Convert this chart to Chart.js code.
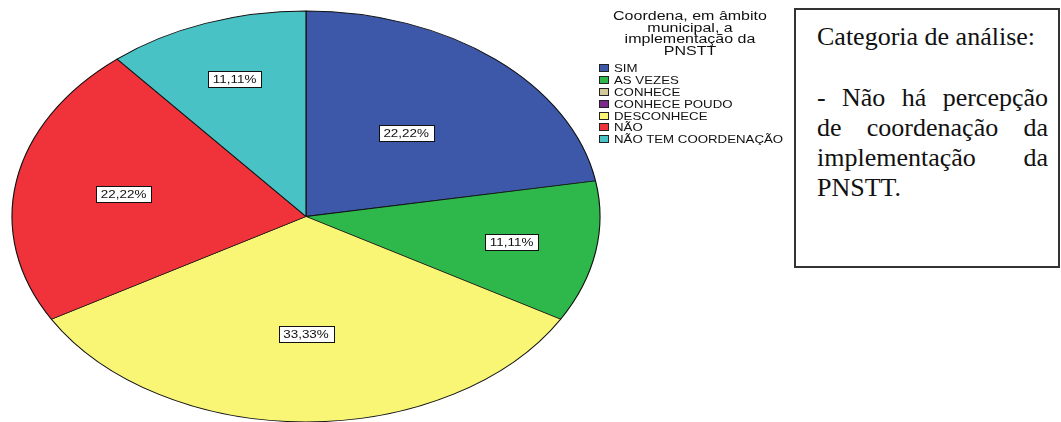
<!DOCTYPE html>
<html lang="pt">
<head>
<meta charset="utf-8">
<title>Coordena, em âmbito municipal, a implementação da PNSTT</title>
<script src="https://cdn.jsdelivr.net/npm/chart.js@4"></script>
<style>
  body { margin: 0; background: #fff; width: 1061px; height: 422px; overflow: hidden; position: relative; }
  #pie-wrap { position: absolute; left: 0; top: 0; width: 612px; height: 422px; }
  #legend-title { position: absolute; left: 610px; top: 11px; width: 160px; text-align: center;
    font-family: "Liberation Sans", Arial, sans-serif; font-size: 12.5px; line-height: 11.6px; color: #111;
    transform: scaleX(1.28); transform-origin: 80px 0; }
  #legend-items { position: absolute; left: 599px; top: 62px; font-family: "Liberation Sans", Arial, sans-serif; color: #111; }
  .legend-item { display: flex; align-items: center; height: 11.9px; font-size: 10.7px; white-space: nowrap; }
  .legend-swatch { width: 10px; height: 8px; border: 1px solid #222; box-sizing: border-box; margin-right: 5px; }
  .legend-text { display: inline-block; transform: scaleX(1.24); transform-origin: 0 50%; }
  #note { position: absolute; left: 794px; top: 8px; width: 266px; height: 260px; box-sizing: border-box;
    border: 2px solid #333; padding: 12px 10px 0 21px;
    font-family: "Liberation Serif", "Times New Roman", serif; font-size: 26px; line-height: 30px; color: #111; }
  #note p { margin: 0 0 31px 0; text-align: justify; }
</style>
</head>
<body>
<div id="pie-wrap"><canvas id="pie-chart" width="612" height="422"></canvas></div>
<div id="legend-title">Coordena, em âmbito<br>municipal, a<br>implementação da<br>PNSTT</div>
<div id="legend-items"></div>
<div id="note">
  <p style="text-align:left">Categoria de análise:</p>
  <p>- Não há percepção de coordenação da implementação da PNSTT.</p>
</div>
<script>
const categories = ["SIM", "AS VEZES", "CONHECE", "CONHECE POUDO", "DESCONHECE", "NÃO", "NÃO TEM COORDENAÇÃO"];
const percentages = [22.22, 11.11, 0, 0, 33.33, 22.22, 11.11];
const sliceColors = ["#3d58a9", "#2eb84c", "#d3c99b", "#7d2b8b", "#f8f674", "#f0333b", "#48c2c5"];
// how far out (fraction of radius) each value label sits
const labelRadius = [0.53, 0.71, 0.6, 0.6, 0.57, 0.63, 0.71];

const pieCanvas = document.getElementById("pie-chart");
const legendItemsEl = document.getElementById("legend-items");

legendItemsEl.innerHTML = categories.map((name, i) => `
  <div class="legend-item"><span class="legend-swatch" style="background:${sliceColors[i]}"></span><span class="legend-text">${name}</span></div>
`).join("");

// stretch the round pie horizontally so it fills the chart area as an ellipse
const ellipsePlugin = {
  id: "ellipse",
  beforeDatasetsDraw(chart) {
    const arc = chart.getDatasetMeta(0).data[0];
    const area = chart.chartArea;
    const ctx = chart.ctx;
    const sx = (area.right - area.left) / 2 / arc.outerRadius;
    const sy = (area.bottom - area.top) / 2 / arc.outerRadius;
    ctx.save();
    ctx.translate(arc.x, arc.y);
    ctx.scale(sx, sy);
    ctx.translate(-arc.x, -arc.y);
  },
  afterDatasetsDraw(chart) {
    chart.ctx.restore();
    const ctx = chart.ctx;
    const area = chart.chartArea;
    const rx = (area.right - area.left) / 2;
    const ry = (area.bottom - area.top) / 2;
    const stretch = 1.22;
    ctx.save();
    ctx.font = "11px 'Liberation Sans', Arial, sans-serif";
    ctx.textAlign = "center";
    ctx.textBaseline = "middle";
    chart.getDatasetMeta(0).data.forEach((el, i) => {
      const value = percentages[i];
      if (!value) return;
      const mid = (el.startAngle + el.endAngle) / 2;
      const x = el.x + Math.cos(mid) * rx * labelRadius[i];
      const y = el.y + Math.sin(mid) * ry * labelRadius[i];
      const text = value.toFixed(2).replace(".", ",") + "%";
      const w = Math.round(ctx.measureText(text).width * stretch + 9);
      const h = 16;
      const bx = Math.round(x - w / 2) + 0.5;
      const by = Math.round(y - h / 2) + 0.5;
      ctx.fillStyle = "#fff";
      ctx.fillRect(bx, by, w, h);
      ctx.strokeStyle = "#111";
      ctx.lineWidth = 1;
      ctx.strokeRect(bx, by, w, h);
      ctx.save();
      ctx.translate(x, y + 1);
      ctx.scale(stretch, 1);
      ctx.fillStyle = "#111";
      ctx.fillText(text, 0, 0);
      ctx.restore();
    });
    ctx.restore();
  },
};

new Chart(pieCanvas, {
  type: "pie",
  data: {
    labels: categories,
    datasets: [{
      data: percentages,
      backgroundColor: sliceColors,
      borderColor: "#111",
      borderWidth: 0.8,
    }],
  },
  options: {
    responsive: false,
    animation: false,
    layout: { padding: { left: 12, right: 12, top: 11, bottom: 0 } },
    plugins: { legend: { display: false }, tooltip: { enabled: false } },
    events: [],
  },
  plugins: [ellipsePlugin],
});
</script>
</body>
</html>
